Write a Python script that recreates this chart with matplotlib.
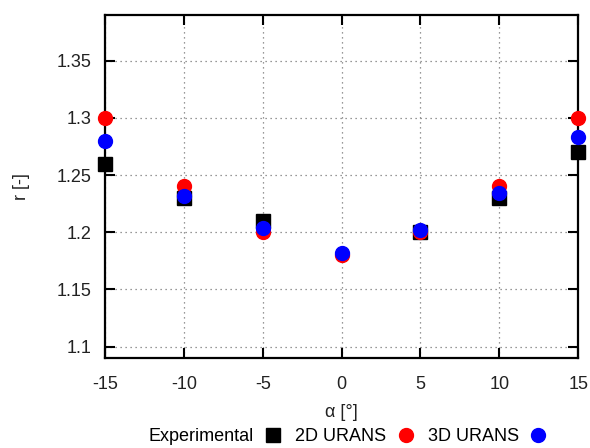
import matplotlib
matplotlib.use('Agg')
from matplotlib import pyplot as plt

plt.rcParams['font.family'] = ['Liberation Sans', 'DejaVu Sans']
plt.rcParams['font.size'] = 13
plt.rcParams['axes.unicode_minus'] = False

alpha = [-15, -10, -5, 0, 5, 10, 15]
r_exp = [1.26, 1.23, 1.21, None, 1.20, 1.23, 1.27]
r_2d = [1.30, 1.24, 1.20, 1.18, 1.20, 1.24, 1.30]
r_3d = [1.28, 1.232, 1.204, 1.182, 1.202, 1.234, 1.283]

# experimental data has no point at 0 deg
exp_x = [a for a, v in zip(alpha, r_exp) if v is not None]
exp_y = [v for v in r_exp if v is not None]

fig = plt.figure(figsize=(5.9, 4.48), dpi=100)
ax = fig.add_axes([0.178, 0.201, 0.802, 0.7655])

ax.plot(exp_x, exp_y, 's', color='k', ms=10, label='Experimental', clip_on=False, zorder=3)
ax.plot(alpha, r_2d, 'o', color='#ff0000', ms=10, label='2D URANS', clip_on=False, zorder=4)
ax.plot(alpha, r_3d, 'o', color='#0000ff', ms=10, label='3D URANS', clip_on=False, zorder=5)

ax.set_xlim(-15, 15)
ax.set_ylim(1.09, 1.39)
ax.set_xticks([-15, -10, -5, 0, 5, 10, 15])
ax.set_yticks([1.1, 1.15, 1.2, 1.25, 1.3, 1.35])
ax.set_yticklabels(['1.1', '1.15', '1.2', '1.25', '1.3', '1.35'])
ax.tick_params(direction='in', length=7, width=1.5, top=True, right=True,
               labelcolor='#222222')
ax.tick_params(axis='x', pad=13)
ax.tick_params(axis='y', pad=10)
ax.grid(True, color='#777777', linestyle=(0, (1, 3)), linewidth=0.9)
for s in ax.spines.values():
    s.set_linewidth(1.6)

ax.set_xlabel('α [°]', color='#222222', labelpad=8)
ax.set_ylabel('r [-]', color='#222222', labelpad=19)

fig.legend(loc='center', bbox_to_anchor=(0.589, 0.025), ncol=3, frameon=False,
           markerfirst=False, handletextpad=0.6, columnspacing=0.8, handlelength=0.9,
           numpoints=1, borderaxespad=0, fontsize=13)

fig.savefig('out.png', dpi=100)
